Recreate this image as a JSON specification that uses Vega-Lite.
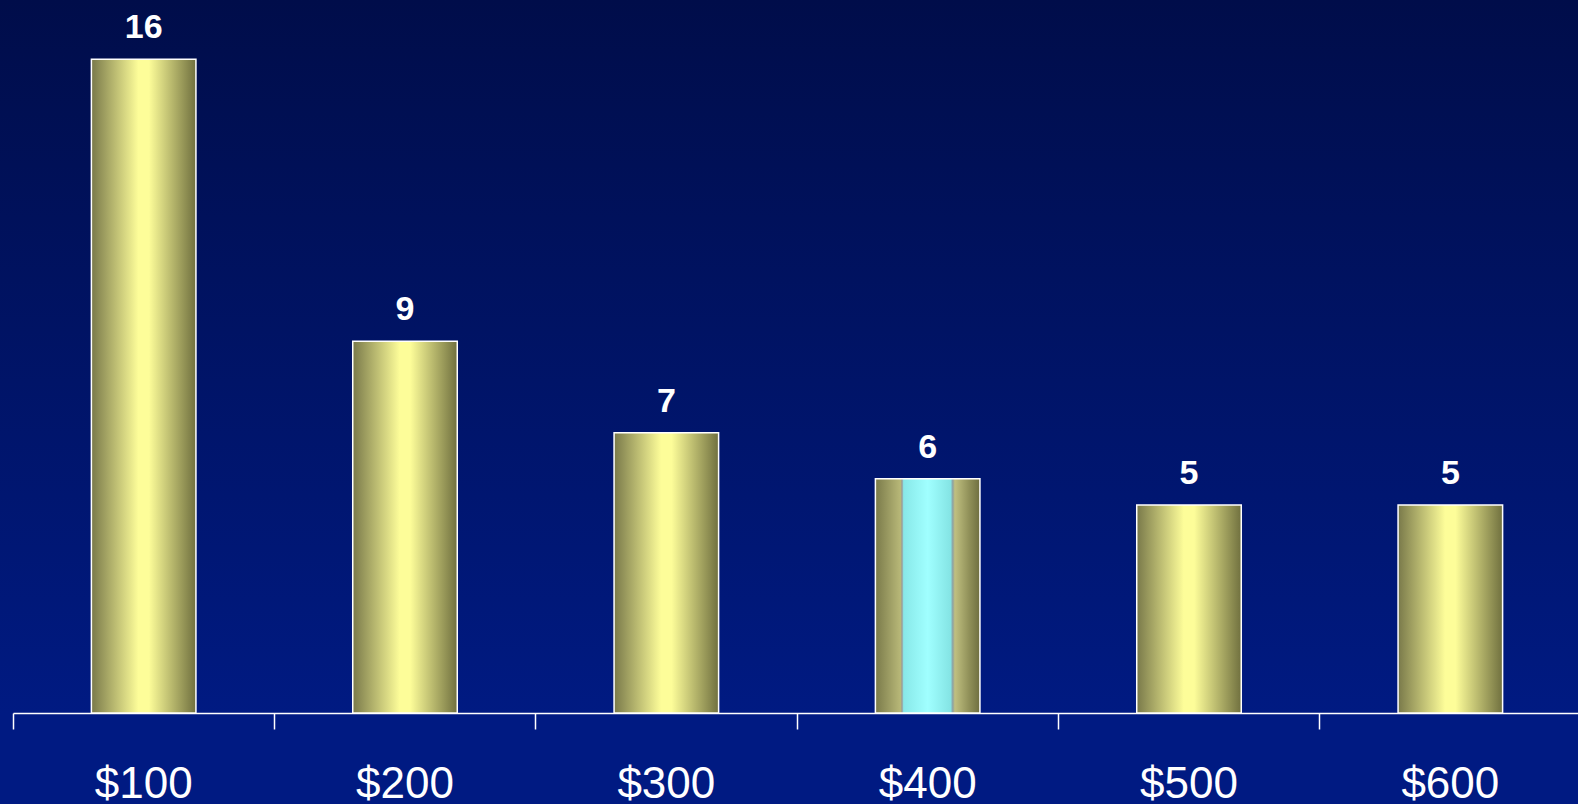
{
  "$schema": "https://vega.github.io/schema/vega-lite/v6.json",
  "autosize": "none",
  "width": 1578,
  "height": 713,
  "padding": {"left": 0, "top": 0, "right": 0, "bottom": 91},
  "background": "#001a82",
  "config": {
    "view": {
      "stroke": null,
      "fill": {"gradient": "linear", "x1": 0, "y1": 0, "x2": 0, "y2": 1,
        "stops": [{"offset": 0, "color": "#000d4a"}, {"offset": 1, "color": "#001a82"}]}
    },
    "font": "Liberation Sans"
  },
  "data": {
    "values": [
      {"price": "$100", "value": 16.0, "highlight": "no"},
      {"price": "$200", "value": 9.10, "highlight": "no"},
      {"price": "$300", "value": 6.86, "highlight": "no"},
      {"price": "$400", "value": 5.73, "highlight": "yes"},
      {"price": "$500", "value": 5.09, "highlight": "no"},
      {"price": "$600", "value": 5.09, "highlight": "no"}
    ]
  },
  "encoding": {
    "x": {
      "field": "price", "type": "nominal",
      "sort": ["$100", "$200", "$300", "$400", "$500", "$600"],
      "scale": {"paddingInner": 0, "paddingOuter": 0, "range": [13, 1581]},
      "axis": {
        "title": null, "labelAngle": 0, "bandPosition": 0,
        "domainColor": "white", "domainWidth": 1.5,
        "tickColor": "white", "tickWidth": 1.5, "tickSize": 16,
        "labelColor": "white", "labelFontSize": 44, "labelFont": "Liberation Sans",
        "labelBaseline": "alphabetic", "labelPadding": 68
      }
    },
    "y": {
      "field": "value", "type": "quantitative",
      "scale": {"domain": [0, 17.45], "nice": false},
      "axis": null
    }
  },
  "layer": [
    {
      "transform": [{"filter": "datum.highlight == 'no'"}],
      "mark": {
        "type": "bar", "width": {"band": 0.4}, "stroke": "white", "strokeWidth": 1.5,
        "fill": {"gradient": "linear", "x1": 0, "y1": 0, "x2": 1, "y2": 0,
          "stops": [
            {"offset": 0, "color": "#79794a"},
            {"offset": 0.45, "color": "#fdfd99"},
            {"offset": 0.55, "color": "#fdfd99"},
            {"offset": 1, "color": "#70703f"}
          ]}
      }
    },
    {
      "transform": [{"filter": "datum.highlight == 'yes'"}],
      "mark": {
        "type": "bar", "width": {"band": 0.4}, "stroke": "white", "strokeWidth": 1.5,
        "fill": {"gradient": "linear", "x1": 0, "y1": 0, "x2": 1, "y2": 0,
          "stops": [
            {"offset": 0, "color": "#7a7a4a"},
            {"offset": 0.24, "color": "#b8b878"},
            {"offset": 0.255, "color": "#9a9a9a"},
            {"offset": 0.27, "color": "#88e8e8"},
            {"offset": 0.5, "color": "#a0ffff"},
            {"offset": 0.72, "color": "#84e4e4"},
            {"offset": 0.74, "color": "#8fa0a0"},
            {"offset": 0.76, "color": "#c0c080"},
            {"offset": 0.9, "color": "#8f8f58"},
            {"offset": 1, "color": "#6e6e40"}
          ]}
      }
    },
    {
      "mark": {"type": "text", "color": "white", "fontSize": 34, "fontWeight": "bold",
        "baseline": "alphabetic", "dy": -21, "font": "Liberation Sans"},
      "encoding": {
        "text": {"field": "value", "type": "quantitative", "format": ".0f"}
      }
    }
  ]
}
